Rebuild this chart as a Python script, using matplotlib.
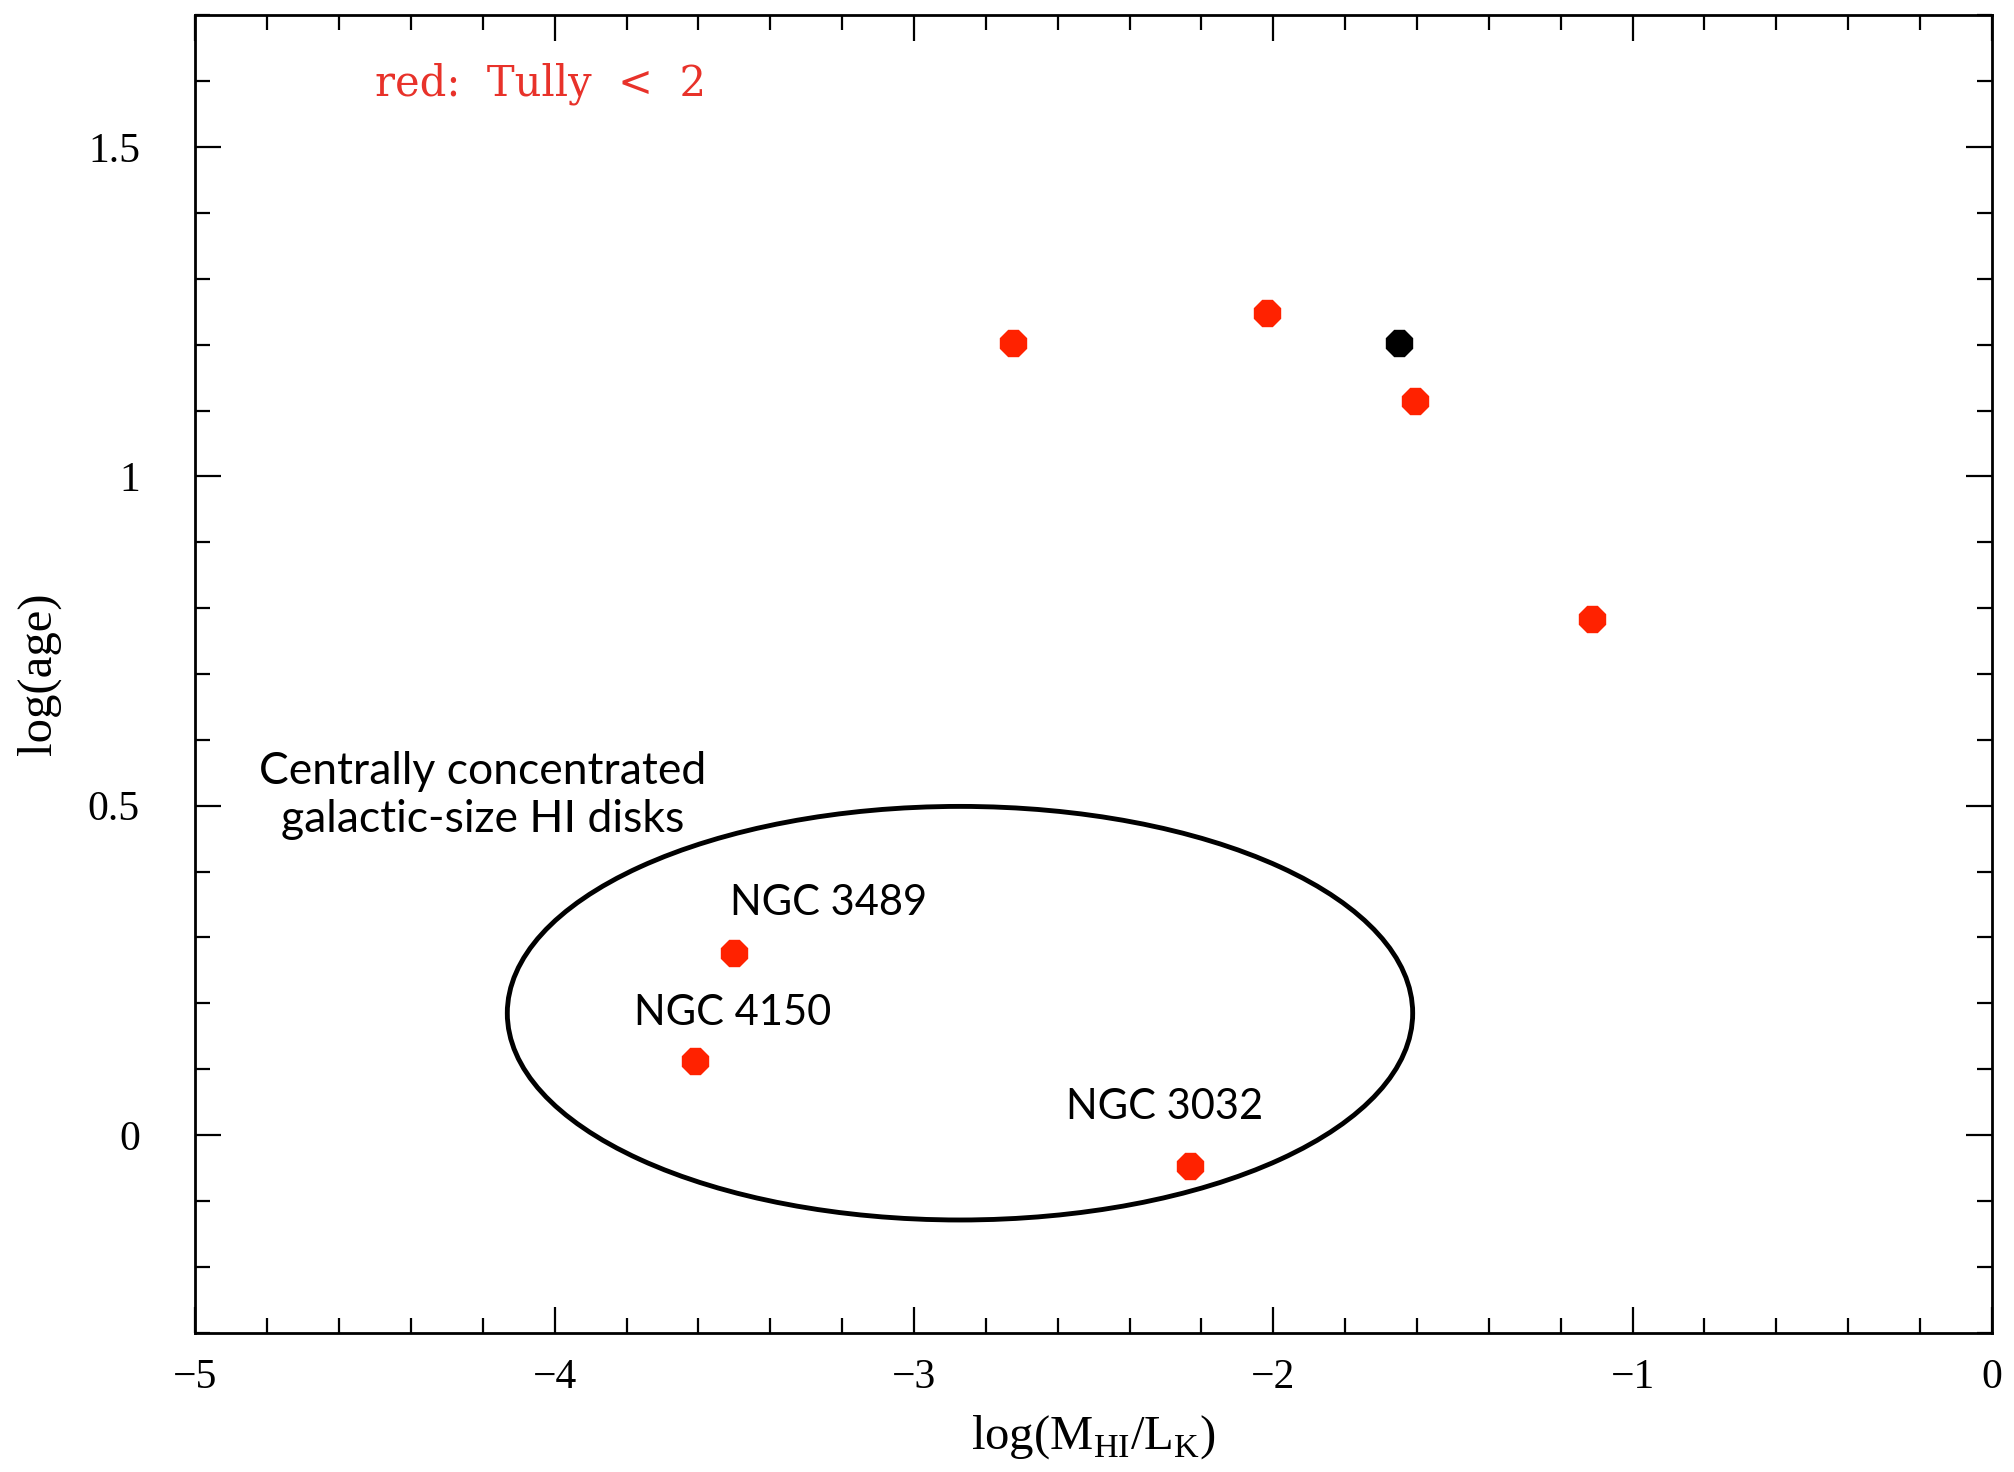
import numpy as np
import matplotlib
matplotlib.use('Agg')
import matplotlib.pyplot as plt
from matplotlib.patches import Ellipse
from matplotlib.ticker import MultipleLocator

# red points (Tully < 2) and the one black point
x_red = [-2.725, -2.017, -1.606, -1.112, -3.501, -3.609, -2.232]
y_red = [1.203, 1.248, 1.115, 0.784, 0.277, 0.113, -0.047]
x_blk = [-1.649]
y_blk = [1.203]

names = ['NGC 3489', 'NGC 4150', 'NGC 3032']
name_x = [-3.237, -3.505, -2.303]
name_y = [0.353, 0.185, 0.043]

serif = 'Liberation Serif'
sans = 'Lato'
plt.rcParams['font.family'] = serif
plt.rcParams['mathtext.fontset'] = 'custom'
plt.rcParams['mathtext.rm'] = serif
plt.rcParams['xtick.labelsize'] = 30
plt.rcParams['ytick.labelsize'] = 30

fig = plt.figure(figsize=(20.15, 14.72), dpi=100)
ax = fig.add_axes([0.097, 0.0947, 0.8915, 0.8948])

ax.plot(x_red, y_red, ls='', marker='8', ms=20, color='#ff2200', mec='#ff2200')
ax.plot(x_blk, y_blk, ls='', marker='8', ms=20, color='black')

ell = Ellipse((-2.872, 0.185), 2.52, 0.628, fill=False, ec='black', lw=3.5)
ax.add_patch(ell)

for n, xx, yy in zip(names, name_x, name_y):
    ax.text(xx, yy, n, ha='center', va='center', fontsize=30, family=sans)

ax.text(-4.201, 0.516, 'Centrally concentrated\ngalactic-size HI disks',
        ha='center', va='center', fontsize=32, family=sans, linespacing=1.2)

ax.text(-4.50, 1.596, 'red:  Tully  <  2', color='#e8322a', fontsize=30,
        family='DejaVu Serif', ha='left', va='center')

ax.set_xlim(-5, 0)
ax.set_ylim(-0.3, 1.7)
ax.xaxis.set_major_locator(MultipleLocator(1))
ax.xaxis.set_minor_locator(MultipleLocator(0.2))
ax.yaxis.set_minor_locator(MultipleLocator(0.1))
ax.set_yticks([0, 0.5, 1, 1.5])
ax.set_yticklabels(['0', '0.5', '1', '1.5'])

ax.tick_params(which='both', direction='in', top=True, right=True, width=1.6)
ax.tick_params(which='major', length=19)
ax.tick_params(axis='x', which='major', pad=19)
ax.tick_params(axis='y', which='major', pad=40)
ax.tick_params(which='minor', length=11)
for s in ax.spines.values():
    s.set_linewidth(2)

ax.set_xlabel(r'log(M$_{\rm HI}$/L$_{\rm K}$)', fontsize=35, labelpad=11)
ax.set_ylabel('log(age)', fontsize=35, labelpad=19)

fig.savefig('out.png', dpi=100)
